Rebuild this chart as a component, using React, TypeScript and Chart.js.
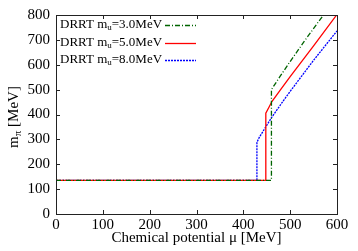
import React, { useEffect, useRef } from "react";
import { Chart, registerables } from "chart.js";

Chart.register(...registerables);

// x: chemical potential mu [MeV], y: m_pi [MeV]
const muGreen = [0, 460, 460, 478, 500, 530, 571, 600];
const mGreen = [135, 135, 500, 552, 613, 694, 800, 875];

const muRed = [0, 448, 448, 455, 461, 478, 500, 550, 600];
const mRed = [135, 135, 405, 430, 452, 496, 552, 676, 802];

const muBlue = [0, 429, 429, 434, 460, 485, 500, 550, 600];
const mBlue = [135, 135, 288, 308, 387, 454, 493, 618, 736];

const massLabels = ["3.0", "5.0", "8.0"];
const xTicks = [0, 100, 200, 300, 400, 500, 600];
const yTicks = [0, 100, 200, 300, 400, 500, 600, 700, 800];

const FONT = "'Liberation Serif', 'DejaVu Serif', serif";

const colors = ["#006400", "#ff0000", "#0000ff"];
const dashes: number[][] = [[5, 2, 1, 2], [], [2, 1]];

function zip(xs: number[], ys: number[]) {
  return xs.map((x, i) => ({ x, y: ys[i] }));
}

const overlay = {
  id: "overlay",
  afterDraw(chart: any) {
    const { ctx, chartArea } = chart;
    const { left, right, top, bottom } = chartArea;
    const xs = chart.scales.x;
    const ys = chart.scales.y;
    ctx.save();
    // frame
    ctx.strokeStyle = "#222";
    ctx.lineWidth = 1;
    ctx.setLineDash([]);
    ctx.strokeRect(Math.round(left) + 0.5, Math.round(top) + 0.5, Math.round(right - left), Math.round(bottom - top));
    // ticks inside
    const tl = 4;
    ctx.beginPath();
    xTicks.slice(1, -1).forEach((v) => {
      const px = Math.round(xs.getPixelForValue(v)) + 0.5;
      ctx.moveTo(px, bottom);
      ctx.lineTo(px, bottom - tl);
      ctx.moveTo(px, top);
      ctx.lineTo(px, top + tl);
    });
    yTicks.slice(1, -1).forEach((v) => {
      const py = Math.round(ys.getPixelForValue(v)) + 0.5;
      ctx.moveTo(left, py);
      ctx.lineTo(left + tl, py);
      ctx.moveTo(right, py);
      ctx.lineTo(right - tl, py);
    });
    ctx.stroke();

    ctx.fillStyle = "#000";
    // x title
    ctx.font = `15px ${FONT}`;
    ctx.textAlign = "center";
    ctx.textBaseline = "middle";
    ctx.fillText("Chemical potential \u03bc [MeV]", (left + right) / 2, 238);

    // y title rotated
    ctx.save();
    ctx.translate(14, 117);
    ctx.rotate(-Math.PI / 2);
    ctx.textBaseline = "middle";
    ctx.textAlign = "left";
    const big = `15px ${FONT}`;
    const small = `11px ${FONT}`;
    ctx.font = big;
    const w1 = ctx.measureText("m").width;
    ctx.font = small;
    const w2 = ctx.measureText("\u03c0").width;
    ctx.font = big;
    const w3 = ctx.measureText(" [MeV]").width;
    let cx = -(w1 + w2 + w3) / 2;
    ctx.fillText("m", cx, 0);
    cx += w1;
    ctx.font = small;
    ctx.fillText("\u03c0", cx, 4);
    cx += w2;
    ctx.font = big;
    ctx.fillText(" [MeV]", cx, 0);
    ctx.restore();

    // legend
    const rows = [25, 42.5, 60];
    massLabels.forEach((m, i) => {
      const y = rows[i];
      let x = 60;
      ctx.textAlign = "left";
      ctx.textBaseline = "middle";
      ctx.font = `13px ${FONT}`;
      ctx.fillText("DRRT m", x, y);
      x += ctx.measureText("DRRT m").width;
      ctx.font = `9px ${FONT}`;
      ctx.fillText("u", x, y + 3);
      x += ctx.measureText("u").width;
      ctx.font = `13px ${FONT}`;
      ctx.fillText("=" + m + "MeV", x, y);
      ctx.strokeStyle = colors[i];
      ctx.lineWidth = 1.3;
      ctx.setLineDash(dashes[i]);
      ctx.beginPath();
      ctx.moveTo(165, Math.round(y) + 0.5);
      ctx.lineTo(196, Math.round(y) + 0.5);
      ctx.stroke();
    });
    ctx.restore();
  },
};

export default function App() {
  const ref = useRef<HTMLCanvasElement | null>(null);
  useEffect(() => {
    document.body.style.margin = "0";
    if (!ref.current) return;
    const datasets = [
      zip(muGreen, mGreen),
      zip(muRed, mRed),
      zip(muBlue, mBlue),
    ].map((data, i) => ({
      label: "DRRT m_u=" + massLabels[i] + "MeV",
      data,
      borderColor: colors[i],
      backgroundColor: colors[i],
      borderWidth: 1.3,
      borderDash: dashes[i],
      pointRadius: 0,
      tension: 0,
      fill: false,
    }));
    const chart = new Chart(ref.current, {
      type: "line",
      data: { datasets },
      options: {
        animation: false,
        responsive: false,
        devicePixelRatio: 1,
        layout: { padding: { left: 0, top: 13, right: 21, bottom: 0 } },
        plugins: { legend: { display: false }, tooltip: { enabled: false } },
        scales: {
          x: {
            type: "linear",
            min: 0,
            max: 600,
            afterFit: (s: any) => { s.height = 37; },
            afterBuildTicks: (s: any) => { s.ticks = xTicks.map((v) => ({ value: v })); },
            ticks: { color: "#000", font: { family: FONT, size: 15 }, padding: 2, maxRotation: 0, autoSkip: false },
            grid: { display: false, drawTicks: false },
            border: { display: false },
          },
          y: {
            type: "linear",
            min: 0,
            max: 800,
            afterFit: (s: any) => { s.width = 56; },
            afterBuildTicks: (s: any) => { s.ticks = yTicks.map((v) => ({ value: v })); },
            ticks: { color: "#000", font: { family: FONT, size: 15 }, padding: 6, autoSkip: false },
            grid: { display: false, drawTicks: false },
            border: { display: false },
          },
        },
      },
      plugins: [overlay],
    });
    return () => chart.destroy();
  }, []);
  return (
    <div style={{ position: "fixed", left: 0, top: 0, width: 358, height: 251, background: "#fff" }}>
      <canvas ref={ref} width={358} height={251} />
    </div>
  );
}
